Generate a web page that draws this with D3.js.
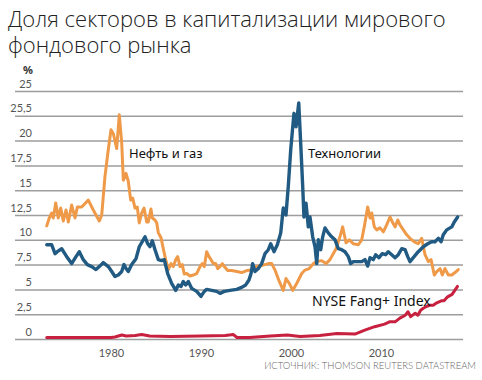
<!DOCTYPE html>
<html>
<head>
<meta charset="utf-8">
<script src="https://cdn.jsdelivr.net/npm/d3@7"></script>
<style>
  body { margin: 0; background: #fff; }
  svg { display: block; }
</style>
</head>
<body>
<div id="wrapper"></div>
<script>
// values (years are fractional)
const oilYears = [1972.86,1973.14,1973.41,1973.59,1973.86,1974.14,1974.41,1974.7,1975,1975.26,1975.63,1976,1976.26,1976.74,1977.48,1978.03,1978.7,1978.97,1979.33,1979.7,1980,1980.26,1980.63,1980.92,1981.19,1981.37,1981.67,1981.92,1982.19,1982.41,1982.67,1982.92,1983.14,1983.41,1983.67,1983.97,1984.14,1984.44,1984.59,1984.89,1985.08,1985.26,1985.56,1985.81,1986.08,1986.37,1986.67,1986.92,1987.19,1987.41,1987.67,1987.92,1988.14,1988.41,1988.78,1989.14,1989.52,1989.89,1990.14,1990.37,1990.63,1990.89,1991.11,1991.37,1991.63,1991.86,1992.11,1992.37,1992.59,1992.97,1993.41,1993.97,1994.52,1995.08,1995.56,1996.19,1996.92,1997.48,1997.86,1998.22,1998.7,1999.14,1999.44,1999.81,2000.19,2000.63,2001.19,2001.56,2002.03,2002.48,2002.86,2003.41,2003.89,2004.33,2005,2005.44,2005.74,2006.11,2006.48,2006.92,2007.48,2007.86,2008.14,2008.33,2008.52,2008.78,2008.97,2009.26,2009.52,2009.89,2010.26,2010.63,2011,2011.26,2011.56,2011.86,2012.11,2012.48,2012.86,2013.22,2013.7,2014.14,2014.52,2014.89,2015.26,2015.56,2015.92,2016.19,2016.56,2016.81,2017.11,2017.48,2017.86,2018.22,2018.59];
const oilValues = [11.4,12.2,12.7,12.2,13.7,12.2,13.2,11.9,13.0,11.8,13.5,12.2,13.3,13.3,14.0,13.0,11.9,12.5,16.4,19.1,21.1,20.7,19.2,22.6,19.8,16.0,16.7,15.9,14.0,14.2,13.2,13.3,11.7,12.7,13.2,11.8,11.8,13.1,12.2,12.0,11.7,10.7,10.2,9.1,8.0,7.0,7.6,7.3,8.0,8.3,7.3,7.5,6.55,6.6,6.35,6.45,6.6,7.3,7.6,7.3,8.8,8.3,8.0,7.6,7.6,7.1,7.3,7.6,7.3,6.9,6.9,6.8,6.7,6.9,6.95,7.3,7.45,7.6,7.6,6.95,5.8,4.9,6.1,5.6,4.9,5.6,6.6,6.95,7.1,7.6,7.8,7.9,7.6,8.0,9.1,10.3,11.3,9.7,10.0,9.6,9.5,10.0,11.3,12.3,13.3,12.2,12.7,11.3,11.0,11.2,10.8,11.5,12.3,11.8,11.3,12.0,11.5,11.0,10.5,10.15,9.8,9.6,10.15,8.5,7.8,8.0,6.45,6.8,7.1,6.45,7.1,6.45,6.45,6.7,7.0];

const techYears = [1972.86,1973.41,1973.78,1974.03,1974.52,1975.08,1975.63,1976.11,1976.48,1976.92,1977.37,1977.86,1978.33,1978.7,1979.14,1979.7,1980.08,1980.44,1980.81,1981.19,1981.44,1981.67,1981.92,1982.3,1982.78,1983.14,1983.52,1983.78,1984.08,1984.33,1984.59,1984.89,1985.26,1985.63,1985.92,1986.3,1986.74,1987.19,1987.48,1987.78,1988.03,1988.3,1988.59,1988.97,1989.52,1990,1990.37,1990.63,1991.19,1991.74,1992.11,1992.59,1993.22,1993.97,1994.52,1994.97,1995.33,1995.56,1995.74,1996,1996.37,1996.74,1997.11,1997.48,1997.74,1998.11,1998.48,1998.86,1999.14,1999.44,1999.7,1999.97,2000.33,2000.56,2000.86,2001.08,2001.3,2001.44,2001.67,2001.92,2002.11,2002.41,2002.67,2002.86,2003.03,2003.3,2003.52,2003.78,2004.14,2004.52,2004.89,2005.26,2005.63,2006,2006.37,2006.63,2006.92,2007.48,2007.86,2008.22,2008.52,2008.78,2009.14,2009.41,2009.78,2010.14,2010.52,2010.81,2011.19,2011.56,2011.92,2012.3,2012.67,2012.97,2013.22,2013.59,2014.14,2014.7,2015.19,2015.63,2016,2016.37,2016.67,2016.92,2017.3,2017.86,2018.14,2018.52];
const techValues = [9.5,9.5,8.6,8.8,9.1,8.3,7.6,8.3,8.8,8.0,7.5,7.3,7.0,7.3,7.7,7.3,6.8,6.3,6.45,6.8,7.5,7.1,6.8,7.5,8.1,9.3,9.9,10.3,9.6,9.3,9.9,9.0,8.0,7.9,8.0,6.6,5.6,4.9,5.45,5.3,5.8,5.45,5.8,5.1,4.8,4.3,4.8,5.0,4.9,4.8,4.6,4.8,4.9,5.0,5.2,5.45,5.95,6.6,7.6,6.8,7.1,7.6,8.6,9.0,9.6,8.8,9.5,10.7,13.2,12.5,15.4,19.1,22.75,21.4,23.8,19.7,15.4,12.3,13.7,11.3,12.3,10.3,9.3,7.6,10.0,9.0,10.3,11.2,10.7,10.3,10.0,9.1,9.0,8.8,8.3,7.6,7.8,7.8,7.8,8.0,7.35,8.2,8.0,8.5,8.2,8.6,8.5,8.8,8.5,8.2,8.5,9.1,9.0,8.3,7.8,8.2,8.8,9.3,9.6,9.8,9.8,10.15,9.8,10.5,11.0,11.3,11.8,12.3];

const fangYears = [1972.86,1980,1980.44,1981.2,1981.7,1982.7,1983.4,1984.3,1986.6,1989.9,1992.7,1993.6,1994.0,1995.4,1997.7,1999.6,2001.0,2003.2,2005.1,2007.1,2008.2,2009.3,2010.4,2011.0,2011.6,2012.1,2012.7,2013.0,2013.3,2013.8,2014.1,2014.4,2014.7,2015.1,2015.4,2015.8,2016.2,2016.7,2017.0,2017.4,2017.9,2018.2,2018.5];
const fangValues = [0.15,0.15,0.2,0.4,0.3,0.35,0.45,0.3,0.25,0.3,0.35,0.45,0.15,0.15,0.3,0.4,0.25,0.35,0.55,0.5,0.9,1.24,1.5,1.75,1.75,2.1,2.4,2.75,2.25,2.6,2.4,2.9,3.1,3.3,3.4,3.4,3.65,3.85,3.85,4.25,4.5,4.9,5.3];

const yTicks = [0,2.5,5,7.5,10,12.5,15,17.5,20,22.5,25];
const yTickLabels = ["0","2,5","5","7,5","10","12,5","15","17,5","20","25,5","25"];
const xTicks = [1980,1990,2000,2010];

const titleLines = ["Доля секторов в капитализации мирового", "фондового рынка"];
const seriesLabels = ["Нефть и газ", "Технологии", "NYSE Fang+ Index"];
const sourceText = "ИСТОЧНИК: THOMSON REUTERS DATASTREAM";

const colors = { oil: "#ef9a48", tech: "#215a82", fang: "#c8203f" };

const width = 482
let dimensions = {
  width: width,
  height: 380,
  margin: { top: 91, right: 19, bottom: 41, left: 15 },
}
dimensions.boundedWidth = dimensions.width - dimensions.margin.left - dimensions.margin.right;
dimensions.boundedHeight = dimensions.height - dimensions.margin.top - dimensions.margin.bottom;

const svg = d3.select("#wrapper")
  .append("svg")
  .attr("width", dimensions.width)
  .attr("height", dimensions.height)

// title, two lines in one text element
svg.append("text")
  .attr("y", 27)
  .attr("font-family", "'Open Sans', 'Noto Sans', sans-serif")
  .attr("font-weight", 300)
  .attr("font-size", "22px")
  .attr("fill", "#222")
  .selectAll("tspan")
  .data(titleLines)
  .join("tspan")
  .attr("x", 8)
  .attr("dy", (d, i) => i === 0 ? 0 : 26)
  .text(d => d)

const bounds = svg.append("g")
  .attr("transform", `translate(${dimensions.margin.left},${dimensions.margin.top})`);

// 1980 sits at x=111 and a year is 9px wide
const xScale = d3.scaleLinear()
  .domain([1980 - 96 / 9, 1980 + 352 / 9])
  .range([0, dimensions.boundedWidth])

const yScale = d3.scaleLinear()
  .domain([0, 25])
  .range([dimensions.boundedHeight, 0])

// gridlines + y labels
const yAxis = d3.axisLeft(yScale)
  .tickValues(yTicks)
  .tickSize(-dimensions.boundedWidth)
  .tickFormat((d, i) => yTickLabels[i])

const yAxisG = bounds.append("g").call(yAxis)
yAxisG.select(".domain").remove()
yAxisG.selectAll(".tick line")
  .attr("stroke", "#9d9d9d")
  .attr("stroke-width", 1.5)
yAxisG.selectAll(".tick text")
  .attr("x", 17)
  .attr("dy", "-4px")
  .attr("text-anchor", "end")
  .attr("font-family", "Lato, 'Noto Sans', sans-serif")
  .attr("font-size", "11px")
  .attr("fill", "#555")

const xAxis = d3.axisBottom(xScale)
  .tickValues(xTicks)
  .tickSize(0)
  .tickPadding(10)
  .tickFormat(d3.format("d"))

const xAxisG = bounds.append("g")
  .attr("transform", `translate(0,${dimensions.boundedHeight})`)
  .call(xAxis)
xAxisG.select(".domain").remove()
xAxisG.selectAll(".tick text")
  .attr("font-family", "Lato, 'Noto Sans', sans-serif")
  .attr("font-size", "11px")
  .attr("fill", "#555")

svg.append("text")
  .attr("x", 28)
  .attr("y", 74)
  .attr("text-anchor", "middle")
  .attr("font-family", "'Noto Sans', sans-serif")
  .attr("font-weight", 700)
  .attr("font-size", "11px")
  .attr("fill", "#333")
  .text("%")

const lineGen = d3.line()
  .x(d => xScale(d[0]))
  .y(d => yScale(d[1]))

const series = [
  { years: fangYears, values: fangValues, color: colors.fang, w: 3 },
  { years: oilYears, values: oilValues, color: colors.oil, w: 3 },
  { years: techYears, values: techValues, color: colors.tech, w: 3.4 },
]

bounds.append("g").selectAll("path")
  .data(series)
  .join("path")
  .attr("d", s => lineGen(d3.zip(s.years, s.values)))
  .attr("fill", "none")
  .attr("stroke", s => s.color)
  .attr("stroke-width", s => s.w)
  .attr("stroke-linejoin", "round")
  .attr("stroke-linecap", "round")

// series labels
const labelPos = [
  { x: 129, y: 158, size: 13 },
  { x: 308, y: 158, size: 13 },
  { x: 312, y: 306, size: 14 },
]
svg.append("g").selectAll("text")
  .data(seriesLabels)
  .join("text")
  .attr("x", (d, i) => labelPos[i].x)
  .attr("y", (d, i) => labelPos[i].y)
  .attr("font-family", "'Noto Sans', sans-serif")
  .attr("font-size", (d, i) => labelPos[i].size + "px")
  .attr("fill", "#111")
  .text(d => d)

svg.append("text")
  .attr("x", 476)
  .attr("y", 369)
  .attr("text-anchor", "end")
  .attr("font-family", "Lato, 'Noto Sans', sans-serif")
  .attr("font-weight", 300)
  .attr("font-size", "9.5px")
  .attr("fill", "#666")
  .text(sourceText)
</script>
</body>
</html>
